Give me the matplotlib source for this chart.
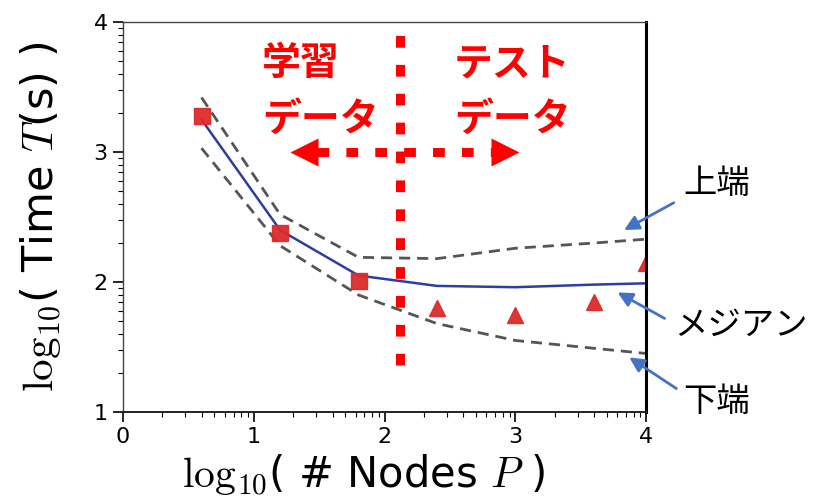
import matplotlib.pyplot as plt
from matplotlib.ticker import FixedLocator
import numpy as np

plt.rcParams['mathtext.fontset'] = 'cm'

# データ
log_nodes = [0.6, 1.2, 1.8, 2.4, 3.0, 3.6, 4.0]
median = [3.25, 2.40, 2.05, 1.97, 1.96, 1.98, 1.99]
upper = [3.42, 2.52, 2.19, 2.18, 2.26, 2.30, 2.33]
lower = [3.03, 2.28, 1.90, 1.68, 1.55, 1.49, 1.45]

train_x = [0.6, 1.2, 1.8]
train_y = [3.28, 2.38, 2.01]
test_x = [2.4, 3.0, 3.6, 4.0]
test_y = [1.80, 1.75, 1.85, 2.15]

split_x = 2.12
RED = '#ff0000'
BLUE = '#4472c4'

fig = plt.figure(figsize=(8.15, 5.03), dpi=100)
ax = fig.add_axes([0.151, 0.181, 0.642, 0.775])

ax.plot(log_nodes, upper, '--', color='#555555', lw=2, dashes=(4, 2.5))
ax.plot(log_nodes, lower, '--', color='#555555', lw=2, dashes=(4, 2.5))
ax.plot(log_nodes, median, '-', color='#2b3f9e', lw=1.8)
ax.plot(train_x, train_y, 's', color='#dd2a2a', ms=11, alpha=0.95)
ax.plot(test_x, test_y, '^', color='#dd2a2a', ms=11, alpha=0.95)

# 学習 / テスト の境界
ax.plot([split_x, split_x], [1.36, 3.9], color=RED, lw=6.5,
        dashes=(1.3, 1.9), solid_capstyle='butt', dash_capstyle='butt')
ax.plot([1.48, 2.82], [3.0, 3.0], color=RED, lw=6.5,
        dashes=(1.3, 1.9), dash_capstyle='butt')
ax.plot([1.38], [3.0], '<', color=RED, ms=20, mec='none')
ax.plot([2.92], [3.0], '>', color=RED, ms=20, mec='none')

jp = ['Noto Sans CJK JP', 'DejaVu Sans']
ax.text(1.06, 3.68, '学習', color=RED, fontsize=28, fontweight='bold', family=jp, va='center')
ax.text(1.06, 3.25, 'データ', color=RED, fontsize=28, fontweight='bold', family=jp, va='center')
ax.text(2.53, 3.68, 'テスト', color=RED, fontsize=28, fontweight='bold', family=jp, va='center')
ax.text(2.53, 3.25, 'データ', color=RED, fontsize=28, fontweight='bold', family=jp, va='center')

# 右側の注釈
notes = [('上端', (4.535, 2.76), (4.21, 2.61), (3.83, 2.40)),
         ('メジアン', (4.725, 1.67), (4.14, 1.72), (3.78, 1.92)),
         ('下端', (4.535, 1.08), (4.23, 1.18), (3.87, 1.42))]
for label, tpos, tail, head in notes:
    ax.text(tpos[0], tpos[1], label, fontsize=24, family=jp, ha='center', va='center',
            clip_on=False)
    ax.annotate('', xy=head, xytext=tail, annotation_clip=False,
                arrowprops=dict(arrowstyle='-|>', color=BLUE, lw=2,
                                mutation_scale=22, shrinkA=0, shrinkB=0))

ax.set_xlim(0, 4)
ax.set_ylim(1, 4)
ax.set_xticks([0, 1, 2, 3, 4])
ax.set_yticks([1, 2, 3, 4])
minor = np.log10(np.arange(2, 10))
ax.xaxis.set_minor_locator(FixedLocator(np.concatenate([minor + k for k in range(4)])))
ax.yaxis.set_minor_locator(FixedLocator(np.concatenate([minor + k for k in range(1, 4)])))
ax.tick_params(which='major', length=7, width=1.2, labelsize=16, pad=4)
ax.tick_params(which='minor', length=3.5, width=0.8)

for side in ['top', 'left']:
    ax.spines[side].set_color('#444444')
    ax.spines[side].set_linewidth(1.0)
ax.spines['bottom'].set_color('#222222')
ax.spines['bottom'].set_linewidth(1.4)
ax.spines['right'].set_color('black')
ax.spines['right'].set_linewidth(2.2)

ax.set_ylabel(r'$\mathrm{log}_{10}$( Time $T$(s) )', fontsize=31, labelpad=8)
ax.set_xlabel(r'$\mathrm{log}_{10}$( # Nodes $P$ )', fontsize=30, labelpad=0)
ax.xaxis.set_label_coords(0.46, -0.102)
ax.yaxis.set_label_coords(-0.115, 0.5)

fig.savefig('out.png', dpi=100)
